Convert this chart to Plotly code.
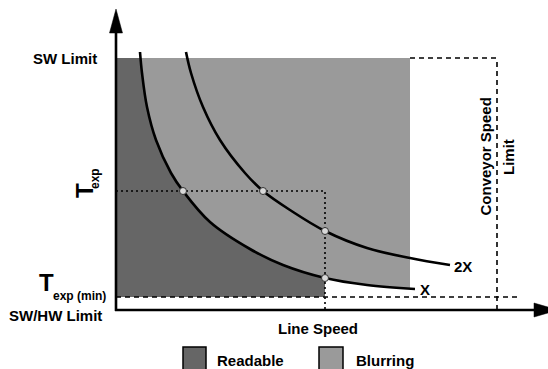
import numpy as np
import plotly.graph_objects as go

# ---- data (diagram units: line speed v, exposure time T) ----
curve_x_v = [24, 26, 31, 40, 55, 67, 94, 134, 167, 209, 251, 299]
curve_x_t = [258, 237, 203, 170, 137, 119, 88, 61, 45, 32, 25, 21]
curve_2x_v = [70, 75, 87, 104, 129, 147, 174, 209, 251, 294, 334]
curve_2x_t = [258, 237, 203, 170, 137, 119, 100, 79, 62, 52, 45]

sw_limit = 252          # SW Limit (top of exposure range)
t_exp_min = 13          # T_exp(min), SW/HW limit
t_exp = 119             # chosen exposure time
v_line = 209            # line speed at T_exp for X
v_blur_max = 294        # right edge of blurring region
v_conveyor = 381        # conveyor speed limit

pts_v = [67, 147, 209, 209]
pts_t = [119, 119, 79, 32]

labels_curve = ["X", "2X"]
legend_labels = ["Readable", "Blurring"]

DARK = "#666666"
LIGHT = "#9a9a9a"
FONT = "Liberation Sans, Arial, sans-serif"

xv = np.array(curve_x_v, float)
xt = np.array(curve_x_t, float)
xc = float(np.interp(sw_limit, xt[::-1], xv[::-1]))
t_at_blur = float(np.interp(v_blur_max, xv, xt))

fig = go.Figure()

# Blurring region (above X curve)
mask_l = (xv > xc) & (xv < v_blur_max) & (xt < sw_limit)
lx = [xc, v_blur_max, v_blur_max] + list(xv[mask_l][::-1]) + [xc]
ly = [sw_limit, sw_limit, t_at_blur] + list(xt[mask_l][::-1]) + [sw_limit]
fig.add_trace(go.Scatter(x=lx, y=ly, fill="toself", fillcolor=LIGHT, mode="lines",
                         line=dict(width=0, color=LIGHT),
                         hoverinfo="skip", showlegend=False))

# Readable region (below X curve, left of v_line)
mask_d = (xv > xc) & (xv <= v_line) & (xt < sw_limit)
dx = [0, xc] + list(xv[mask_d]) + [v_line, 0, 0]
dy = [sw_limit, sw_limit] + list(xt[mask_d]) + [t_exp_min, t_exp_min, sw_limit]
fig.add_trace(go.Scatter(x=dx, y=dy, fill="toself", fillcolor=DARK, mode="lines",
                         line=dict(width=0, color=DARK), hoverinfo="skip", showlegend=False))

# dotted guide lines
fig.add_trace(go.Scatter(x=[0, v_line, v_line], y=[t_exp, t_exp, 0], mode="lines",
                         line=dict(color="black", width=1.6, dash="2px,3px"),
                         hoverinfo="skip", showlegend=False))

# curves
fig.add_trace(go.Scatter(x=curve_x_v, y=curve_x_t, mode="lines",
                         line=dict(color="black", width=2.6, shape="spline"),
                         hoverinfo="skip", showlegend=False))
fig.add_trace(go.Scatter(x=curve_2x_v, y=curve_2x_t, mode="lines",
                         line=dict(color="black", width=2.6, shape="spline"),
                         hoverinfo="skip", showlegend=False))

# intersection points
fig.add_trace(go.Scatter(x=pts_v, y=pts_t, mode="markers",
                         marker=dict(size=7, color="#d8d8d8", line=dict(color="#333333", width=1)),
                         hoverinfo="skip", showlegend=False))

shapes = []
dash = dict(color="black", width=1.6, dash="5px,4px")
shapes.append(dict(type="line", x0=0, x1=402, y0=t_exp_min, y1=t_exp_min, line=dash))
shapes.append(dict(type="line", x0=v_conveyor, x1=v_conveyor, y0=0, y1=sw_limit, line=dash))
shapes.append(dict(type="line", x0=v_blur_max, x1=v_conveyor, y0=sw_limit, y1=sw_limit, line=dash))

# axes with arrowheads
shapes.append(dict(type="line", x0=0, x1=0, y0=-1, y1=280, line=dict(color="black", width=2.6)))
shapes.append(dict(type="line", x0=-1, x1=420, y0=0, y1=0, line=dict(color="black", width=2.6)))
shapes.append(dict(type="path", path="M -6.5 277 L 0 301 L 6.5 277 Z",
                   fillcolor="black", line=dict(color="black", width=0.5)))
shapes.append(dict(type="path", path="M 418 -7 L 442 0 L 418 7 Z",
                   fillcolor="black", line=dict(color="black", width=0.5)))

# legend boxes
shapes.append(dict(type="rect", x0=67, x1=90, y0=-61, y1=-37, fillcolor=DARK,
                   line=dict(color="black", width=1.5)))
shapes.append(dict(type="rect", x0=203, x1=227, y0=-61, y1=-37, fillcolor=LIGHT,
                   line=dict(color="black", width=1.5)))

def ann(text, x, y, size=15, xanchor="center", yanchor="middle", angle=0):
    return dict(text=text, x=x, y=y, xref="x", yref="y", showarrow=False,
                xanchor=xanchor, yanchor=yanchor, textangle=angle,
                font=dict(family=FONT, size=size, color="black", weight="bold"))

annotations = [
    ann("SW Limit", -17, sw_limit, xanchor="right"),
    ann("SW/HW Limit", -12, -5, xanchor="right"),
    ann("T", -70, 28, size=24),
    ann("exp (min)", -65, 14, size=12, xanchor="left"),
    ann("T", -32, 119, size=24, angle=-90),
    ann("exp", -21, 131, size=12, angle=-90),
    ann("Conveyor Speed", 368.5, 153, angle=-90),
    ann("Limit", 392, 153, angle=-90),
    ann(labels_curve[1], 347, 44),
    ann(labels_curve[0], 309, 21),
    ann("Line Speed", 202, -18),
    ann(legend_labels[0], 99, -50, xanchor="left"),
    ann(legend_labels[1], 238, -50, xanchor="left"),
]

fig.update_layout(
    width=548, height=369, autosize=False,
    margin=dict(l=0, r=0, t=0, b=0, pad=0),
    paper_bgcolor="white", plot_bgcolor="white",
    xaxis=dict(range=[-116, 432], visible=False, fixedrange=True),
    yaxis=dict(range=[-59, 310], visible=False, fixedrange=True),
    shapes=shapes, annotations=annotations, showlegend=False,
)

fig.write_html("out.html", config={"displayModeBar": False},
               post_script="document.body.style.margin='0';document.body.style.overflow='hidden';")
